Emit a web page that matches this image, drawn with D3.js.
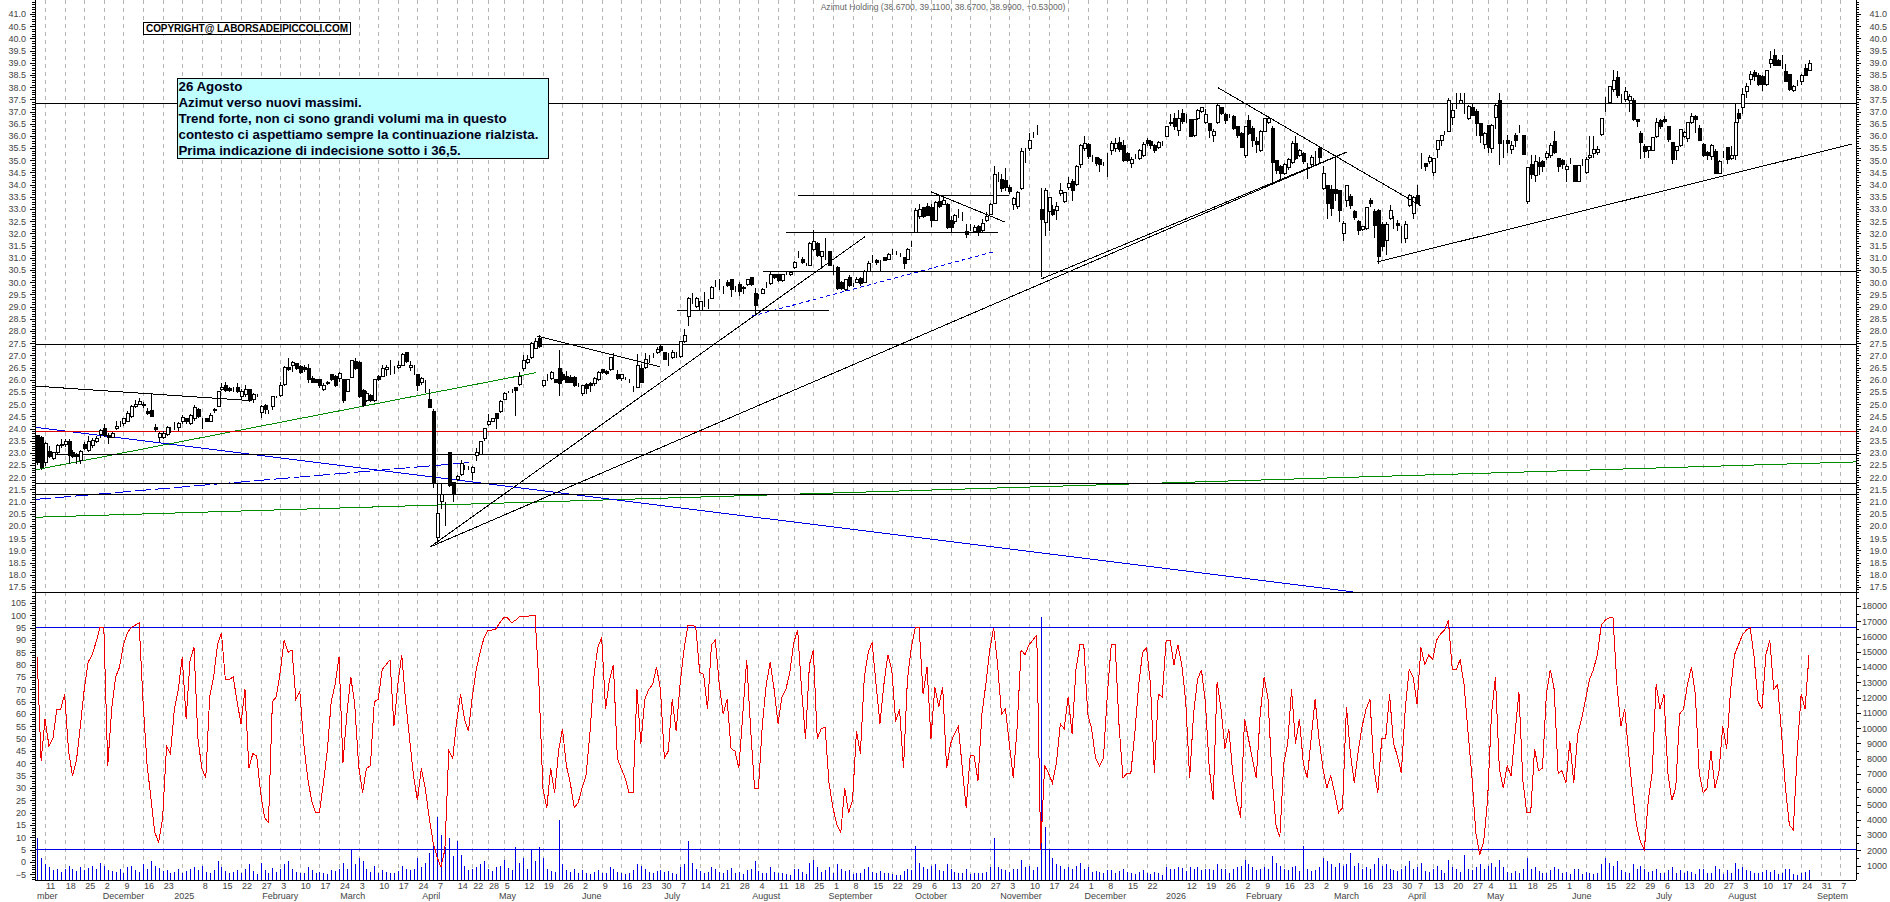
<!DOCTYPE html>
<html>
<head>
<meta charset="utf-8">
<script src="https://d3js.org/d3.v7.min.js"></script>
<style>
  body { margin: 0; background: #fff; }
  svg { display: block; font-family: "Liberation Sans", Arial, sans-serif; }
  .tick text { fill: #444; font-size: 9px; }
  .tick line, .domain { stroke: #000; shape-rendering: crispEdges; }
</style>
</head>
<body>
<div id="chart"></div>
<script>
const width = 1890;
const height = 902;

// daily candles, bar 0 is the first session on the left
const opens = [
23.7,23.65,22.6,23.05,22.75,23,23.3,23.35,23.45,23,22.9,22.7,23.35,23.1,23.3,23.45,23.75,24,23.7,23.65,
24,24.15,24.2,24.3,24.5,24.9,25,25,24.7,24.75,24.05,23.65,23.65,23.75,23.95,24.2,24.05,24.3,24.4,24.2,
24.4,24.8,24.4,24.4,24.3,24.8,24.9,25.6,25.75,25.65,25.6,25.7,25.3,25.4,25.6,25.2,25.35,24.65,24.95,24.7,
24.9,25.3,25.35,25.8,26.5,26.6,26.65,26.55,26.5,26.45,26.05,26,26,25.6,25.9,26.2,26.15,26.05,26,25.5,
26.1,26.75,26.7,25.55,25.15,25.35,25.15,26.15,26.15,26.4,26.5,26.35,26.5,26.6,27.1,26.5,26.45,26.2,25.9,25.9,
25.2,24.7,19.55,21,20.55,23,21.8,21.9,22.1,22.4,22.4,22.2,22.9,22.95,23.6,24.17,24.3,24.6,24.7,25.2,
25.5,25.5,25.7,25.8,26.45,26.7,26.9,27.3,27.7,25.75,26.1,26.05,26,26.45,26.2,26.15,26.1,26.1,25.8,25.45,
25.8,25.85,25.85,26,26.4,26.35,26.4,27,26.2,26.05,26.05,25.95,25.65,25.7,26.45,26.5,26.9,27,27.1,27.35,
27.1,27,26.9,27,26.95,27.55,28.6,29.4,29,28.85,29.25,29.2,29.35,29.95,29.9,29.7,30,30.1,29.75,29.9,
29.75,29.9,30.2,29.55,29.4,29.55,29.85,29.95,30.3,30.3,30.05,30.35,30.3,30.6,31.15,30.95,30.7,30.7,31.35,31.6,
31.05,31.25,31.25,30.65,30.6,30,29.7,30.2,29.85,30,30.15,30,30.45,30.9,30.9,30.8,31,30.95,31.2,31.2,
31.1,31,30.95,31.6,32.05,32.7,33.05,33.1,33.05,32.55,33.3,33.2,33.2,32.55,32.5,32.8,32.72,32.07,32.27,32.09,
32.27,32.13,32.55,32.78,33.23,34.3,34.2,34.18,33.88,33.2,33.09,33.84,35.24,35.48,35.99,36.24,32.98,32.45,32.89,32.99,
32.93,33.64,33.3,33.88,34.14,34.02,34.84,35.49,35.66,35.07,35.1,35.05,34.84,35.03,35.39,35.49,35.73,35.62,35.28,34.87,
35.14,35.07,35.21,35.83,35.76,35.62,35.53,35.69,35.99,36.55,36.7,36.21,36.92,36.65,36.67,36,36.71,36.99,36.55,36.51,
36,36.55,37.17,36.89,36.81,36.81,36.37,36.1,35.21,36.65,36.3,35.76,35.41,36.2,36.55,36.3,35,34.76,34.46,34.7,
34.9,35.69,35.2,35.28,34.69,34.84,35.28,35.48,33.84,33.98,33.8,33.8,33.77,32,33.36,33.5,32.91,32.48,32.16,32.2,
33.36,32.89,32.93,32.38,31.72,32.61,32.38,32.4,32,31.8,33.16,32.82,33.56,34.98,34.87,34.94,34.5,35.44,35.83,36.1,
36.2,36.76,37.26,37.33,37.36,36.72,37.17,37.02,36.51,35.66,36.43,35.49,36.76,37.47,35.6,35.83,35.46,36.03,36.3,36,
33.3,34.84,34.39,34.91,34.94,35.12,35.21,35.76,35.08,34.98,34.64,34.94,34.78,34.12,34.87,34.5,35.1,35.28,35.32,36.06,
37.26,37.36,37.9,38.4,37.53,37.49,37.44,37.47,36.67,36.1,35.55,35.39,35.42,35.96,36.62,36.67,36.37,35.73,35.39,35.62,
35.99,35.9,36.54,36.78,36.3,35.65,35.32,35.14,35.38,34.46,35.25,35.53,35.06,35.18,36.92,37.17,37.81,38.31,38.59,38.49,
38.42,38.11,38.97,39.31,39.11,38.9,38.65,38.53,37.88,38.18,38.22,38.76,38.67
];
const closes = [
22.6,22.4,23.4,22.85,23,23.3,23.35,23.45,22.9,22.85,22.85,23.05,23.2,23.45,23.5,23.6,23.9,23.7,23.65,23.8,
24.1,24.15,24.4,24.6,24.9,25,25.1,24.95,24.6,24.5,23.95,23.8,23.8,24.05,23.95,24.2,24.2,24.45,24.3,24.55,
24.85,24.5,24.4,24.3,24.55,24.75,25.5,25.7,25.55,25.55,25.6,25.5,25.5,25.6,25.15,25.4,25.35,24.9,24.8,24.7,
25.3,25.3,25.75,26.5,26.4,26.7,26.45,26.3,26.4,26,25.9,25.9,25.75,25.75,25.85,26,25.75,26.25,25.15,26,
26.8,26.45,25.3,24.95,25.45,25.15,26,26,26.45,26.5,26.5,26.35,26.6,27.05,26.75,26.6,26.45,25.75,26.05,25.9,
24.85,21.75,20.5,21.3,20.55,21.65,21.3,22.05,22.55,22.4,22.4,22.4,23,23.45,24,24.3,24.4,24.4,25.1,25.45,
25.5,25.5,25.55,26.15,26.8,26.85,27.5,27.55,27.35,25.95,26.1,26.3,25.9,25.85,26,25.9,25.9,25.75,25.8,25.75,
25.65,25.75,26.05,26.3,26.3,26.25,26.9,27,26.05,26.2,26.05,25.95,25.65,26.6,25.9,26.85,26.9,27,27.25,27.2,
26.85,27,27.1,27,27.55,27.8,29.35,29.4,29.35,29.2,29.25,29.2,29.8,29.95,29.9,29.7,29.85,29.7,29.75,29.6,
29.8,30.1,29.9,29.05,29.4,29.7,29.85,30.3,30.2,30.05,30.3,30.35,30.4,30.8,31.15,30.8,30.7,31.6,31.65,31.1,
31.25,31.25,30.7,30.65,29.75,29.75,30.1,29.85,29.85,30.1,29.95,30.45,30.75,30.9,30.8,30.8,30.9,31.15,31.2,31.2,
31.1,30.75,31.35,31.6,32.95,33,32.7,32.75,32.55,33.25,33.1,33.35,32.25,32.25,32.75,32.8,32.72,31.96,32.27,32.24,
32.1,32.41,32.68,33.2,34.42,34.3,33.84,33.9,33.7,33.43,33.68,35.35,35.24,35.83,35.99,36.24,32.59,33.77,33.47,32.79,
33.12,33.77,33.67,34.05,33.77,34.76,35.62,35.69,35.14,35.07,34.87,34.84,34.84,35.03,35.69,35.69,35.46,34.98,35,35.05,
35.14,35.41,35.66,35.69,35.62,35.39,35.72,35.69,36.37,36.5,36.37,36.71,36.6,36.65,35.96,36.67,37.06,37.15,36.89,36.21,
36.17,37.23,36.92,36.65,36.81,36.3,36,35.53,36.37,36.1,35.8,35.66,36.2,36.71,36.71,34.9,34.57,34.46,34.83,35.03,
35.69,35.07,35.39,34.94,34.69,35.12,35.28,35.12,34.46,33.23,33.02,33.64,32.93,32.41,33.98,33.16,32.65,32.13,32.27,33.05,
33.23,32.34,31.05,31.45,32.38,32.93,32.38,32.34,32,32.38,33.56,33.47,33.23,34.98,34.73,35.12,35.08,35.83,36,36.1,
37.47,37.03,37.26,37.47,37.36,37.19,36.85,36.51,36.03,36.1,35.51,36.44,37.26,35.69,35.6,35.69,35.6,35.83,36.3,35.24,
34.69,34.42,34.94,34.76,34.76,35.28,35.6,35.31,34.73,34.84,34.73,34.94,34.12,34.78,34.87,35.03,35.21,35.46,35.46,36.72,
37.26,38.04,38.29,37.67,37.53,37.81,37.6,36.67,36.58,35.72,35.35,35.55,35.94,36.55,36.37,36.58,35.87,35.03,35.55,36.26,
36.14,36.54,36.78,36.67,35.83,35.21,35.18,35.6,34.46,34.95,35.25,35.03,35.21,36.55,36.7,37.71,38.01,38.52,38.42,38.11,
38.11,38.7,39.13,38.9,38.9,38.9,38.22,37.9,38.01,38.18,38.49,38.46,38.99
];
const highs = [
23.75,23.7,23.45,23.3,23.05,23.35,23.55,23.55,23.55,23.1,23,23.1,23.45,23.7,23.6,23.7,24,24.2,23.8,23.85,
24.3,24.3,24.45,24.7,24.95,25.15,25.25,25.1,24.85,25.4,24.2,23.85,23.9,24.1,24.05,24.25,24.25,24.55,24.45,24.6,
24.95,24.85,24.45,24.45,24.65,24.85,25.55,25.85,25.9,25.7,25.7,25.85,25.6,25.8,25.6,25.45,25.4,24.95,25,24.75,
25.3,25.35,25.9,26.55,26.9,26.75,26.7,26.6,26.6,26.65,26.15,26.05,26.05,25.85,25.95,26.25,26.2,26.3,26,26,
26.8,26.9,26.75,25.6,25.55,25.4,26.05,26.2,26.6,26.6,26.8,26.55,26.75,27.1,27.15,26.75,26.6,26.2,26.1,26,
25.6,24.8,21.75,21.75,21,23,21.8,22.1,22.7,22.5,22.45,22.45,23.2,23.5,24,24.6,24.45,24.65,25.15,25.5,
25.55,25.6,25.7,26.3,27,27,27.55,27.7,27.85,26,26.25,26.35,26.05,27.2,26.3,26.35,26.2,26.15,25.85,25.8,
25.85,25.9,26.1,26.35,26.45,26.4,26.95,27.1,26.4,26.25,26.1,26.05,25.75,27.05,26.65,27.1,27,27.1,27.35,27.45,
27.15,27.1,27.2,27.15,27.6,28.1,29.4,29.55,29.4,29.25,29.6,29.3,29.85,30.1,30.15,29.85,30.1,30.15,29.85,30,
29.85,30.15,30.2,29.75,29.5,29.75,30,30.45,30.35,30.35,30.35,30.4,30.45,30.85,31.3,31.05,30.8,31.65,32.15,31.65,
31.3,31.8,31.3,30.7,30.65,30.05,30.15,30.3,29.95,30.2,30.2,30.5,30.85,31.1,30.95,30.9,31.05,31.2,31.35,31.3,
31.2,31.05,31.4,31.7,33.05,33.2,33.1,33.25,33.2,33.35,33.55,33.5,33.25,32.7,32.8,33,32.9,32.4,32.4,32.35,
32.35,32.6,32.9,33.25,34.75,34.5,34.45,34.7,34,33.5,33.75,35.5,35.5,36.1,36.15,36.45,33.85,33.85,33.5,33.15,
33.3,34.05,33.7,34.3,34.25,34.8,35.65,36,35.7,35.2,35.15,35.1,34.95,35.3,35.8,35.9,35.95,35.85,35.35,35.15,
35.25,35.45,35.75,35.9,35.85,35.65,35.8,35.8,36.4,36.9,36.95,37.05,37.1,36.9,36.7,36.7,37.1,37.2,37.1,36.55,
36.3,37.3,37.2,36.95,36.9,36.85,36.4,36.15,36.4,36.85,36.4,35.95,36.25,36.75,36.8,36.4,35,34.8,34.9,35.1,
35.8,36,35.45,35.35,34.9,35.2,35.4,35.55,34.75,34,34,35.2,33.8,32.5,34,33.6,32.95,32.55,32.3,33.1,
33.45,33,33,32.45,32.45,33.15,32.7,32.55,32.3,32.5,33.6,33.55,34,35.3,34.9,35.2,35.1,35.85,36.05,36.2,
37.55,37.35,37.75,37.75,37.75,37.25,37.35,37.1,36.55,36.15,36.45,36.5,37.3,37.75,35.85,36.05,35.8,36.1,36.45,36.05,
34.7,35.2,35.2,35.15,35,35.4,35.7,36.2,35.1,35.05,34.85,35.1,34.8,34.8,35.05,35.15,36,36,35.6,36.75,
37.6,38.05,38.7,38.65,37.7,38,37.7,37.55,36.7,36.2,35.65,35.6,35.95,36.75,36.7,36.8,36.4,35.75,35.6,36.3,
36.2,36.55,36.95,36.85,36.45,35.7,35.4,35.65,35.45,35,35.4,35.55,35.6,37.35,37.1,37.95,38.15,38.65,38.7,38.6,
38.5,38.7,39.5,39.55,39.15,39.3,38.95,38.55,38.1,38.3,38.55,38.95,39.11
];
const lows = [
22.5,22.3,22.45,22.8,22.7,22.95,23.2,23.25,22.55,22.8,22.55,22.55,23.1,23.05,23.2,23.4,23.6,23.65,23.35,23.6,
23.95,24.05,24.1,24.25,24.45,24.85,24.95,24.85,24.55,24.5,23.85,23.45,23.55,23.7,23.8,23.95,23.9,24.2,24.2,24.15,
24.3,24.45,24,24.25,24.25,24.65,24.9,25.55,25.5,25.5,25.5,25.45,25.15,25.3,25.1,25.05,25.3,24.45,24.6,24.6,
24.75,25.25,25.3,25.75,26.35,26.3,26.4,26.25,26.3,25.85,25.85,25.85,25.65,25.55,25.8,25.95,25.7,25.9,25.05,25.5,
26.1,26.4,25.25,24.9,25.1,25.1,25.1,25.95,26.1,26.15,26.2,26.25,26.45,26.6,26.7,26.35,26.2,25.55,25.8,25.45,
24.85,21.55,19.3,20.7,20,21.6,21,21.85,22.05,22.3,22.3,21.9,22.65,22.9,23.5,24.1,24.25,24,24.65,25.15,
25.45,25.45,24.5,25.75,26.35,26.65,26.85,27.25,27.3,25.7,25.95,26,25.85,25.35,25.95,25.85,25.85,25.7,25.7,25.35,
25.4,25.5,25.75,25.95,26.25,26.2,26.35,26.4,26,25.95,26,25.85,25.5,25.7,25.85,26.45,26.7,26.9,27.05,27.15,
26.8,26.55,26.85,26.9,26.9,27.5,28.2,29.1,28.95,28.8,29,28.9,29.3,29.8,29.7,29.5,29.8,29.4,29.6,29.45,
29.5,29.85,29.85,28.65,29.3,29.5,29.75,29.9,30.15,30,30,30.3,30.25,30.55,31,30.75,30.65,30.7,31.3,31.05,
30.55,30.9,30.65,30.3,29.7,29.7,29.65,29.8,29.8,29.95,29.85,29.95,30.4,30.8,30.7,30.4,30.85,30.9,31.1,31.1,
31.05,30.55,30.9,31.45,32,32.6,32.65,32.7,32.25,32.5,33.05,33.15,32.2,32,32.4,32.65,32.5,31.8,32.1,32,
31.9,32.05,32.45,32.75,33.2,34.1,33.7,33.75,33.6,32.95,33,33.8,34.9,35.4,35.9,36.05,30.2,31.9,32.1,32.7,
32.55,33.55,33.25,33.8,33.35,33.95,34.7,35.4,35.05,34.95,34.75,34.5,34.75,34.3,35.2,35.35,35.35,34.95,34.95,34.7,
35.05,35,35.15,35.6,35.45,35.3,35.45,35.6,35.95,36.4,36.25,36,36.5,36.55,35.95,35.95,36.65,36.95,36.5,35.9,
35.75,36.5,36.85,36.5,36.75,36.25,35.9,35.5,35.1,36.05,35.55,35.3,35.35,36.15,36.5,34.05,34.45,34.15,34.4,34.6,
34.85,35,35.15,34.85,34.25,34.75,34.8,34.85,33.8,32.6,32.7,33.35,32.45,31.7,33.1,33,32.55,31.95,32.1,32.15,
33.1,31.8,30.75,31.3,31.1,32.55,32.2,32.1,31.6,31.6,33.1,32.6,33.2,34.65,34.55,34.85,34.35,35.1,35.6,36.05,
36.2,36.45,37.1,37.3,36.9,36.65,36.8,36,35.7,35.45,35.3,35.3,36.3,34.8,35.1,35.3,35.25,35.55,36.1,35.2,
33.2,34.25,34.1,34.4,34.5,35,35.1,35.25,34.5,34.65,34.1,34.85,34.1,34.1,34.75,34.45,35.05,35.1,35.2,36,
37,37.3,37.8,37.55,37.33,37.4,37,36.6,36.35,35.05,35.1,35.1,35.4,35.9,36.3,36.55,35.75,34.85,35,35.55,
35.9,35.75,36.5,36.1,35.8,35.15,35,35,34.45,34.45,35.1,34.85,35,35,36.55,36.9,37.55,38.1,38.25,38.05,
37.85,38.05,38.8,38.85,38.85,38.75,38.2,37.85,37.8,38.05,38.1,38.45,38.67
];

// red oscillator, left scale of the lower panel
const oscillator = [
83,41,58,47,50,62,62,68,45,35,41,55,70,81,84,89,95,95,39,62,
75,79,88,93,95,96,97,65,40,26,12,8,18,47,44,62,70,83,58,82,
87,50,38,34,67,75,88,93,74,74,75,65,56,70,38,44,43,28,18,16,
65,67,77,90,85,86,66,69,48,34,25,20,20,32,45,65,72,83,40,60,
75,64,39,28,38,39,65,66,78,80,82,55,72,84,65,50,35,25,38,30,
18,8,2,-2,5,45,42,57,68,58,53,67,78,85,91,94,94,94.5,97,99,
99,97,98,99.5,99.5,99.5,100,100,72,30,22,38,28,45,54,39,32,22,24,30,
35,52,75,87,91,62,74,80,42,38,34,28,28,70,48,66,70,72,79,70,
42,45,66,53,72,86,96,96,95.5,77,76,62,88,90,72,60,66,46,45,38,
60,82,54,30,30,56,72,81,70,56,67,70,77,89,94,70,50,80,86,50,
54,54.6,32,22,15,12,30,20,25,53,44,75,85,89,72,56,72,84,78,57,
62,38,74,87,95,95,68,79,50,71,63,71,38,48,52,55,38,22,43,43,
33,60,72,86,95,80,60,62,48,34,55,86,84,88,90,92,5,39,36,32,
40,56,54,67,52,78,88,88,60,54,42,39,42,68,88,88,55,34,36,36,
52,72,85,87,72,36,68,67,90,90,80,88,80,65,34,60,74,78,65,38,
25,73,62,46,54,36,25,18,58,50,42,34,60,75,66,35,15,10,40,48,
70,48,58,40,34,50,66,50,38,30,35,28,20,22,63,44,32,45,55,62,
66,38,28,50,50,68,48,43,36,62,78,75,64,87,80,84,82,90,92.5,94,
98,78,78,82,72,53,35,12,3,8,25,60,75,38,30,39,35,52,69,33,
20,20,46,37,38,68,78,70,36,37,32,49,32,52,58,66,74,78,84,96,
98,99,99,72,55,62,44,28,15,8,5,25,36,72,62,68,36,25,30,60,
62,72,79,68,36,28,30,45,30,36,55,46,70,84,88,92,94,95,83,65,
62,84,90,70,72,52,30,15,13,45,68,62,84
];

// blue volume bars, right scale of the lower panel
const volumes = [
2800,1500,1100,900,700,800,600,750,1000,800,650,900,700,850,1000,750,1200,950,700,650,
600,800,550,900,1000,700,600,1100,800,1300,1000,850,650,700,500,600,750,550,650,800,
900,700,1000,600,550,700,1300,900,650,500,600,700,550,800,1100,650,450,1200,700,500,
850,600,750,1100,1300,800,600,550,500,900,700,550,600,500,450,700,650,750,1200,800,
2100,1100,1500,1300,800,600,1000,550,700,600,500,550,650,1000,800,700,800,1500,900,1200,
1800,2500,4200,3000,2200,2800,1600,2600,1700,1000,700,800,900,1100,1300,800,650,900,1000,1400,
850,700,2200,1200,1500,800,2000,1300,2200,1500,800,650,600,4000,1100,700,600,750,550,700,
500,450,600,700,550,500,900,750,600,500,450,550,700,1100,1000,800,600,500,650,700,
600,650,500,450,900,1100,2600,1200,800,650,550,600,900,800,600,550,700,850,500,600,
450,700,800,1300,650,500,550,900,600,550,500,450,400,800,750,600,450,1200,1400,900,
600,700,900,550,1100,800,650,700,450,500,550,800,900,600,500,650,550,500,450,400,
400,650,800,700,2300,1200,900,800,1000,1100,700,650,1100,800,600,500,550,800,450,500,
500,550,600,900,2800,900,750,700,600,750,800,1400,900,1000,700,900,17300,3500,2000,1500,
1100,1000,800,900,750,1000,1200,800,900,600,650,600,500,700,700,550,650,800,600,500,
450,600,700,500,450,600,500,400,900,750,800,900,850,650,900,800,900,700,800,750,
700,1100,800,750,500,800,900,1000,1400,1100,900,700,800,900,750,1600,1200,1000,800,700,
900,1000,650,2300,800,650,700,900,1500,1300,1100,900,1200,1000,1100,1800,1000,1200,800,900,
800,1100,1500,1000,1100,800,700,650,800,1000,1300,800,900,1200,650,600,750,1000,700,500,
1400,900,800,600,1700,800,700,900,1100,800,1000,1200,900,1400,900,600,500,650,500,800,
1500,800,900,650,500,550,700,900,800,500,600,450,800,750,450,600,500,450,500,1100,
1500,1200,1000,1300,700,600,550,1100,800,1000,800,600,650,800,550,500,700,900,550,700,
500,650,600,450,800,750,500,550,1000,800,450,700,500,1200,800,900,700,650,500,550,
600,700,600,700,450,500,750,800,450,400,550,600,700
];

// weekly grid: bar index and the day shown under it
const weekBars = [2,7,12,17,22,27,32,37,42,47,52,57,62,67,72,77,82,87,92,97,102,107,111,115,119,
  124,129,134,139,144,149,154,159,164,169,174,179,184,189,193,198,203,208,213,218,223,228,233,238,243,
  248,253,258,263,268,273,278,283,288,293,298,303,308,313,318,323,328,333,338,343,348,352,356,361,366,370,
  375,380,385,390,395,400,405,410,415,420,425,430,435,440,445,450,455,460];
const weekDays = ["11","18","25","2","9","16","23","","8","15","22","27","3","10","17","24","3","10","17","24","7","14","22","28","5",
  "12","19","26","2","9","16","23","30","7","14","21","28","4","11","18","25","1","8","15","22","29","6","13","20","27",
  "3","10","17","24","1","8","15","22","","12","19","26","2","9","16","23","2","9","16","23","30","7","13","20","27","4",
  "11","18","25","1","8","15","22","29","6","13","20","27","3","10","17","24","31","7"];
const monthNames = ["December","2025","February","March","April","May","June","July","August","September","October","November","December","2026","February","March","April","May","June","July","August","Septem"];
const monthBars = [22,37.5,62,80.5,100.5,120,141.5,162,186,207.5,228,251,272.5,290.5,313,334,352,372,394,415,435,458];

// support, resistance and trend lines in [bar, price, bar, price]
const fullLevels = [37.33, 27.45, 22.95, 21.75, 21.3];
const redLevel = 23.88;
const shortLevels = [
  [185.1, 30.45, 464, 30.45],
  [163.2, 28.85, 202, 28.85],
  [191, 32.05, 245, 32.05],
  [194, 33.56, 248, 33.56],
];
const blackTrends = [
  [100.2, 19.14, 211.2, 31.87],
  [100.2, 19.14, 334.1, 35.34],
  [256.1, 30.13, 334.1, 35.34],
  [341.8, 30.83, 463, 35.67],
  [-0.56, 25.74, 54.8, 25.14],
  [127.4, 27.8, 158.9, 26.53],
  [228, 33.71, 247, 32.46],
  [301.2, 37.98, 352.9, 33.14],
];
const greenTrends = [
  [-0.56, 22.3, 127.2, 26.29],
  [-0.56, 20.36, 464, 22.63],
];
const blueTrend = [-0.56, 24.05, 335.7, 17.3];
const blueLongDash = [-0.56, 21.09, 110.8, 22.61];
const blueShortDash = [182.3, 28.61, 244, 31.25];
const oscLevels = [95, 5];

const title = "Azimut Holding (38.6700, 39.1100, 38.6700, 38.9900, +0.53000)";
const copyright = "COPYRIGHT@ LABORSADEIPICCOLI.COM";
const noteLines = [
  "26 Agosto",
  "Azimut verso nuovi massimi.",
  "Trend forte, non ci sono grandi volumi ma in questo",
  "contesto ci aspettiamo sempre la continuazione rialzista.",
  "Prima indicazione di indecisione sotto i 36,5.",
];

const axisLeftX = 35;
const axisRightX = 1856;
const panelSplit = 592;
const panelBottom = 880;

const x = d3.scaleLinear().domain([0, 452]).range([37.2, 1809]);
const yPrice = d3.scaleLinear().domain([41, 17.5]).range([14, 587]);
const yOsc = d3.scaleLinear().domain([95, 35]).range([627.7, 775.7]);
const yVol = d3.scaleLinear().domain([18000, 7000]).range([606, 774]);

const svg = d3
  .select("#chart")
  .append("svg")
  .attr("width", width)
  .attr("height", height);

// weekly dashed grid
svg
  .append("g")
  .selectAll("line")
  .data(weekBars)
  .enter()
  .append("line")
  .attr("x1", (d) => Math.round(x(d)) + 0.5)
  .attr("x2", (d) => Math.round(x(d)) + 0.5)
  .attr("y1", 0)
  .attr("y2", panelBottom)
  .attr("stroke", "#b4b4b4")
  .attr("stroke-dasharray", "4,4")
  .attr("shape-rendering", "crispEdges");

function drawSegment(seg, color, dash) {
  svg
    .append("line")
    .attr("x1", x(seg[0]))
    .attr("y1", yPrice(seg[1]))
    .attr("x2", x(seg[2]))
    .attr("y2", yPrice(seg[3]))
    .attr("stroke", color)
    .attr("stroke-width", 1)
    .attr("stroke-dasharray", dash || null)
    .attr("shape-rendering", "crispEdges");
}

greenTrends.forEach((s) => drawSegment(s, "#008a00"));
drawSegment(blueTrend, "#0000e6");
drawSegment(blueLongDash, "#0000e6", "16,4");
drawSegment(blueShortDash, "#0000e6", "4,3");
fullLevels.forEach((p) => drawSegment([-0.56, p, 464, p], "#000"));
drawSegment([-0.56, redLevel, 464, redLevel], "#e00000");
shortLevels.forEach((s) => drawSegment(s, "#000"));

// candles
const candles = svg
  .append("g")
  .attr("shape-rendering", "crispEdges")
  .selectAll("g")
  .data(opens)
  .enter()
  .append("g");

candles
  .append("line")
  .attr("x1", (d, i) => Math.round(x(i)) + 0.5)
  .attr("x2", (d, i) => Math.round(x(i)) + 0.5)
  .attr("y1", (d, i) => yPrice(highs[i]))
  .attr("y2", (d, i) => yPrice(lows[i]))
  .attr("stroke", "#000");

candles
  .append("rect")
  .attr("x", (d, i) => Math.round(x(i)) - 1)
  .attr("width", 3)
  .attr("y", (d, i) => yPrice(Math.max(d, closes[i])))
  .attr("height", (d, i) => Math.abs(yPrice(d) - yPrice(closes[i])))
  .attr("fill", (d, i) => (closes[i] < d ? "#000" : "#fff"))
  .attr("stroke", "#000");

blackTrends.forEach((s) => drawSegment(s, "#000"));

// lower panel
svg
  .append("line")
  .attr("x1", axisLeftX)
  .attr("x2", axisRightX)
  .attr("y1", panelSplit + 0.5)
  .attr("y2", panelSplit + 0.5)
  .attr("stroke", "#000")
  .attr("shape-rendering", "crispEdges");

svg
  .append("g")
  .attr("shape-rendering", "crispEdges")
  .selectAll("line")
  .data(volumes)
  .enter()
  .append("line")
  .attr("x1", (d, i) => Math.round(x(i)) + 0.5)
  .attr("x2", (d, i) => Math.round(x(i)) + 0.5)
  .attr("y1", (d) => yVol(d))
  .attr("y2", panelBottom)
  .attr("stroke", "#0000e6");

svg
  .append("g")
  .selectAll("line")
  .data(oscLevels)
  .enter()
  .append("line")
  .attr("x1", axisLeftX)
  .attr("x2", axisRightX)
  .attr("y1", (d) => yOsc(d))
  .attr("y2", (d) => yOsc(d))
  .attr("stroke", "#0000e6")
  .attr("shape-rendering", "crispEdges");

svg
  .append("path")
  .datum(oscillator)
  .attr("fill", "none")
  .attr("stroke", "#f00000")
  .attr("stroke-width", 1)
  .attr("shape-rendering", "crispEdges")
  .attr(
    "d",
    d3
      .line()
      .x((d, i) => x(i))
      .y((d) => yOsc(d))
  );

// axes
const priceMajor = d3.range(17.5, 41.01, 0.5);
const priceMinor = d3.range(17.3, 41.6, 0.1);
const oscMajor = d3.range(-5, 105.1, 5);
const oscMinor = d3.range(-7, 109, 1);
const volMajor = d3.range(1000, 18001, 1000);
const volMinor = d3.range(500, 19000, 500);

function addAxis(axis, tx) {
  return svg.append("g").attr("transform", `translate(${tx},0)`).call(axis);
}

addAxis(d3.axisLeft(yPrice).tickValues(priceMinor).tickSize(3).tickFormat(""), axisLeftX);
addAxis(d3.axisRight(yPrice).tickValues(priceMinor).tickSize(3).tickFormat(""), axisRightX);
addAxis(d3.axisLeft(yOsc).tickValues(oscMinor).tickSize(3).tickFormat(""), axisLeftX);
addAxis(d3.axisRight(yVol).tickValues(volMinor).tickSize(3).tickFormat(""), axisRightX);

addAxis(
  d3.axisLeft(yPrice).tickValues(priceMajor).tickSize(5).tickPadding(4).tickFormat(d3.format(".1f")),
  axisLeftX
);
addAxis(
  d3.axisLeft(yOsc).tickValues(oscMajor).tickSize(5).tickPadding(4).tickFormat(d3.format("d")),
  axisLeftX
);
addAxis(
  d3.axisRight(yPrice).tickValues(priceMajor).tickSize(5).tickFormat(d3.format(".1f")),
  axisRightX
)
  .selectAll("text")
  .attr("text-anchor", "end")
  .attr("x", 31);
addAxis(
  d3.axisRight(yVol).tickValues(volMajor).tickSize(5).tickFormat(d3.format("d")),
  axisRightX
)
  .selectAll("text")
  .attr("text-anchor", "end")
  .attr("x", 31);

// both axes get a full height rule
[axisLeftX, axisRightX].forEach((ax) => {
  svg
    .append("line")
    .attr("x1", ax + 0.5)
    .attr("x2", ax + 0.5)
    .attr("y1", 0)
    .attr("y2", panelBottom)
    .attr("stroke", "#000")
    .attr("shape-rendering", "crispEdges");
});

svg
  .append("line")
  .attr("x1", axisLeftX)
  .attr("x2", axisRightX)
  .attr("y1", panelBottom + 0.5)
  .attr("y2", panelBottom + 0.5)
  .attr("stroke", "#000")
  .attr("shape-rendering", "crispEdges");

// week and month labels
svg
  .append("g")
  .selectAll("text")
  .data(weekDays)
  .enter()
  .append("text")
  .attr("x", (d, i) => x(weekBars[i]) + 1)
  .attr("y", 889)
  .attr("font-size", 9)
  .attr("fill", "#444")
  .text((d) => d);

svg
  .append("g")
  .selectAll("text")
  .data(monthNames)
  .enter()
  .append("text")
  .attr("x", (d, i) => x(monthBars[i]))
  .attr("y", 899)
  .attr("text-anchor", "middle")
  .attr("font-size", 9)
  .attr("fill", "#444")
  .text((d) => d);

svg
  .append("text")
  .attr("x", 37)
  .attr("y", 899)
  .attr("font-size", 9)
  .attr("fill", "#444")
  .text("mber");

svg
  .append("text")
  .attr("x", 943)
  .attr("y", 10)
  .attr("text-anchor", "middle")
  .attr("font-size", 8.6)
  .attr("fill", "#666")
  .text(title);

// copyright stamp
svg
  .append("rect")
  .attr("x", 143.5)
  .attr("y", 22.5)
  .attr("width", 207)
  .attr("height", 11.5)
  .attr("fill", "#fff")
  .attr("stroke", "#000")
  .attr("shape-rendering", "crispEdges");

svg
  .append("text")
  .attr("x", 146)
  .attr("y", 32)
  .attr("font-size", 10)
  .attr("font-weight", "bold")
  .attr("textLength", 202)
  .text(copyright);

// comment box
svg
  .append("rect")
  .attr("x", 177.5)
  .attr("y", 78.5)
  .attr("width", 371)
  .attr("height", 80)
  .attr("fill", "#bfffff")
  .attr("stroke", "#000")
  .attr("shape-rendering", "crispEdges");

svg
  .append("g")
  .selectAll("text")
  .data(noteLines)
  .enter()
  .append("text")
  .attr("x", 178.5)
  .attr("y", (d, i) => 90.5 + i * 16.1)
  .attr("font-size", 13.3)
  .attr("font-weight", "bold")
  .attr("fill", "#00001a")
  .text((d) => d);
</script>
</body>
</html>
